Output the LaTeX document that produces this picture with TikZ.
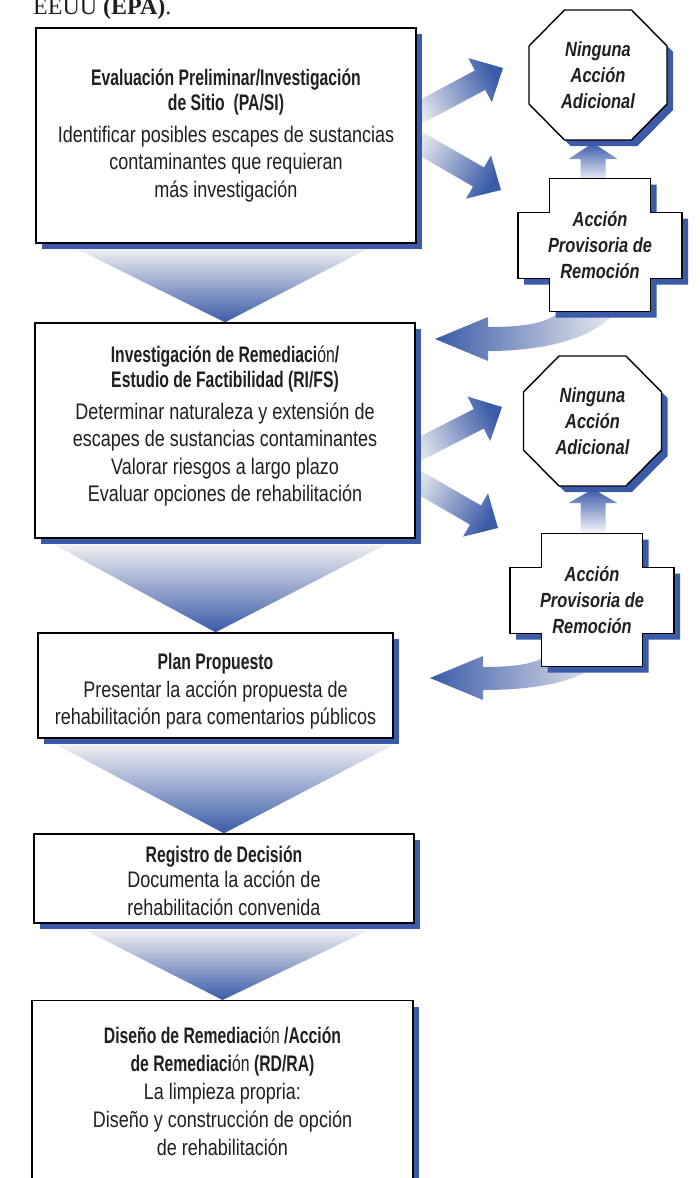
\documentclass[tikz,border=0pt]{standalone}
\usepackage{fontspec}
\setmainfont{Liberation Sans}[FakeStretch=0.8]
\newfontfamily\headfont{Liberation Sans}[FakeStretch=0.7]
\newfontfamily\docfont{Liberation Serif}
\usetikzlibrary{calc,shadows}

\definecolor{epablue}{RGB}{58,91,168}
\definecolor{fadegray}{RGB}{238,239,241}
\definecolor{inkblack}{RGB}{35,31,32}

\pgfdeclarelayer{back}
\pgfdeclarelayer{mid}
\pgfsetlayers{back,mid,main}

\newcommand\hd[1]{{\headfont\bfseries #1}}

% wide shaded arrow: tip, direction, shading angle
\newcommand\slantarrow[3]{%
  \shade[top color=fadegray, bottom color=epablue, shading angle=#3]
    ($(#1)+(#2+180:105)+(#2+90:11)$) -- ($(#1)+(#2+180:26)+(#2+90:11)$)
    -- ($(#1)+(#2+180:26)+(#2+90:25)$) -- (#1)
    -- ($(#1)+(#2+180:26)+(#2-90:25)$) -- ($(#1)+(#2+180:26)+(#2-90:11)$)
    -- ($(#1)+(#2+180:105)+(#2-90:11)$) -- cycle;}

\tikzset{
  blueshadow/.style={drop shadow={shadow xshift=6pt, shadow yshift=-6pt, fill=epablue, opacity=1}},
  procbox/.style={draw=black, line width=1.4pt, fill=white, blueshadow, align=center,
    text=inkblack, font=\fontsize{22.5}{27.5}\selectfont, inner sep=0pt},
  boxtext/.style={align=center, text=inkblack, font=\fontsize{22.5}{28}\selectfont},
  sidetext/.style={align=center, text=inkblack, font=\fontsize{20.5}{26}\selectfont\bfseries\itshape},
  sideshape/.style={draw=black, line width=1.4pt, fill=white, blueshadow},
  funnel/.style={top color=fadegray, bottom color=epablue},
}

\begin{document}
\begin{tikzpicture}[x=1pt,y=-1pt]
  \useasboundingbox (0,0) rectangle (699,1178);
  \node[font=\docfont\fontsize{24}{24}\selectfont, text=inkblack, anchor=base west, inner sep=0pt]
    (epa) at (33,14.5) {EEUU \textbf{(EPA)}.};

  % main steps
  \node[procbox, minimum width=380pt, minimum height=215pt] (pasi) at (226,135.5)
    {\hd{Evaluación Preliminar/Investigación}\\[-2.5pt] \hd{de Sitio~~(PA/SI)}\\[4pt]
     Identificar posibles escapes de sustancias\\ contaminantes que requieran\\ más investigación};
  \node[procbox, minimum width=380pt, minimum height=215pt] (rifs) at (225,430.5)
    {\hd{Investigación de Remediaci\textmd{ón}/}\\[-2.5pt] \hd{Estudio de Factibilidad (RI/FS)}\\[4pt]
     Determinar naturaleza y extensión de\\ escapes de sustancias contaminantes\\
     Valorar riesgos a largo plazo\\ Evaluar opciones de rehabilitación\rule[-13pt]{0pt}{13pt}};
  \node[procbox, minimum width=355pt, minimum height=105pt] (plan) at (215.5,685.5)
    {\rule{0pt}{28pt}\hd{Plan Propuesto}\\ Presentar la acción propuesta de\\ rehabilitación para comentarios públicos};
  \node[procbox, minimum width=380pt, minimum height=89pt] (rod) at (224,878.5)
    {\rule{0pt}{21pt}\hd{Registro de Decisión}\\[-2pt] Documenta la acción de\\ rehabilitación convenida};
  \node[procbox, minimum width=381pt, minimum height=240pt, anchor=north] (rdra) at (222.5,1000) {};
  \node[boxtext] (rdratext) at ($(rdra.north)+(0,91)$)
    {\hd{Diseño de Remediaci\textmd{ón} /Acción}\\ \hd{de Remediaci\textmd{ón} (RD/RA)}\\
     La limpieza propria:\\ Diseño y construcción de opción\\ de rehabilitación};

  % side steps
  \node[sidetext] (nna1) at (598,75)    {Ninguna\\Acción\\Adicional};
  \node[sidetext] (apr1) at (600,245)   {Acción\\Provisoria de\\Remoción};
  \node[sidetext] (nna2) at (592.5,421) {Ninguna\\Acción\\Adicional};
  \node[sidetext] (apr2) at (592,600)   {Acción\\Provisoria de\\Remoción};

  \begin{pgfonlayer}{mid}
    \foreach \stop in {nna1,nna2}
      \draw[sideshape] (\stop.center) ++(-33.5,-65) -- ++(67,0) -- ++(35.5,36) -- ++(0,58)
        -- ++(-35.5,36) -- ++(-67,0) -- ++(-35.5,-36) -- ++(0,-58) -- cycle;
    \foreach \act in {apr1,apr2}
      \draw[sideshape] (\act.center) ++(-50.5,-66.5) -- ++(101,0) -- ++(0,34) -- ++(31.5,0)
        -- ++(0,66) -- ++(-31.5,0) -- ++(0,33) -- ++(-101,0) -- ++(0,-33) -- ++(-31.5,0)
        -- ++(0,-66) -- ++(31.5,0) -- cycle;
  \end{pgfonlayer}

  \begin{pgfonlayer}{back}
    % funnels between the steps
    \shade[funnel] ($(pasi.south west)+(41,5)$) -- ($(pasi.south east)+(-49,5)$) -- (rifs.north) -- cycle;
    \shade[funnel] ($(rifs.south west)+(20,6)$) -- ($(rifs.south east)+(-30,6)$) -- (plan.north) -- cycle;
    \shade[funnel] ($(plan.south west)+(19,6)$) -- ($(plan.south east)+(0,6)$) -- (rod.north) -- cycle;
    \shade[funnel] ($(rod.south west)+(53,7)$) -- ($(rod.south east)+(-47,7)$) -- (rdra.north) -- cycle;

    % arrows to the side steps
    \coordinate (tipa) at (503,68);
    \coordinate (tipb) at (501,190);
    \coordinate (tipc) at (502,407);
    \coordinate (tipd) at (498,528);
    \foreach \tip/\ang/\shang in {tipa/-28/118, tipb/30/60, tipc/-27/117, tipd/30/60}
      \slantarrow{\tip}{\ang}{\shang};

    \coordinate (upa) at ($(nna1.center)+(-5,68)$);
    \coordinate (upb) at ($(nna2.center)+(0.5,68)$);
    \shade[top color=epablue, bottom color=white] (upa) -- ++(24.5,16) -- ++(-12,0) -- ++(0,25)
      -- ++(-25,0) -- ++(0,-25) -- ++(-12,0) -- cycle;
    \shade[top color=epablue, bottom color=white] (upb) -- ++(24.5,14) -- ++(-12,0) -- ++(0,32)
      -- ++(-25,0) -- ++(0,-32) -- ++(-12,0) -- cycle;

    \coordinate (reta) at (435,339);
    \coordinate (retb) at (430,678);
    \shade[left color=epablue, right color=fadegray] (reta) -- ++(53,-22) -- ++(0,10)
      .. controls +(42,0) and +(-10,17) .. ++(77,-22) -- ++(55,0)
      .. controls +(-20,35) and +(52,0) .. ++(-132,46) -- ++(0,10) -- cycle;
    \shade[left color=epablue, right color=fadegray] (retb) -- ++(53,-22) -- ++(0,11)
      .. controls +(32,0) and +(-13,9) .. ++(65,-12) -- ++(62,0)
      .. controls +(-25,27) and +(53,0) .. ++(-127,35) -- ++(0,10) -- cycle;
  \end{pgfonlayer}
\end{tikzpicture}
\end{document}
